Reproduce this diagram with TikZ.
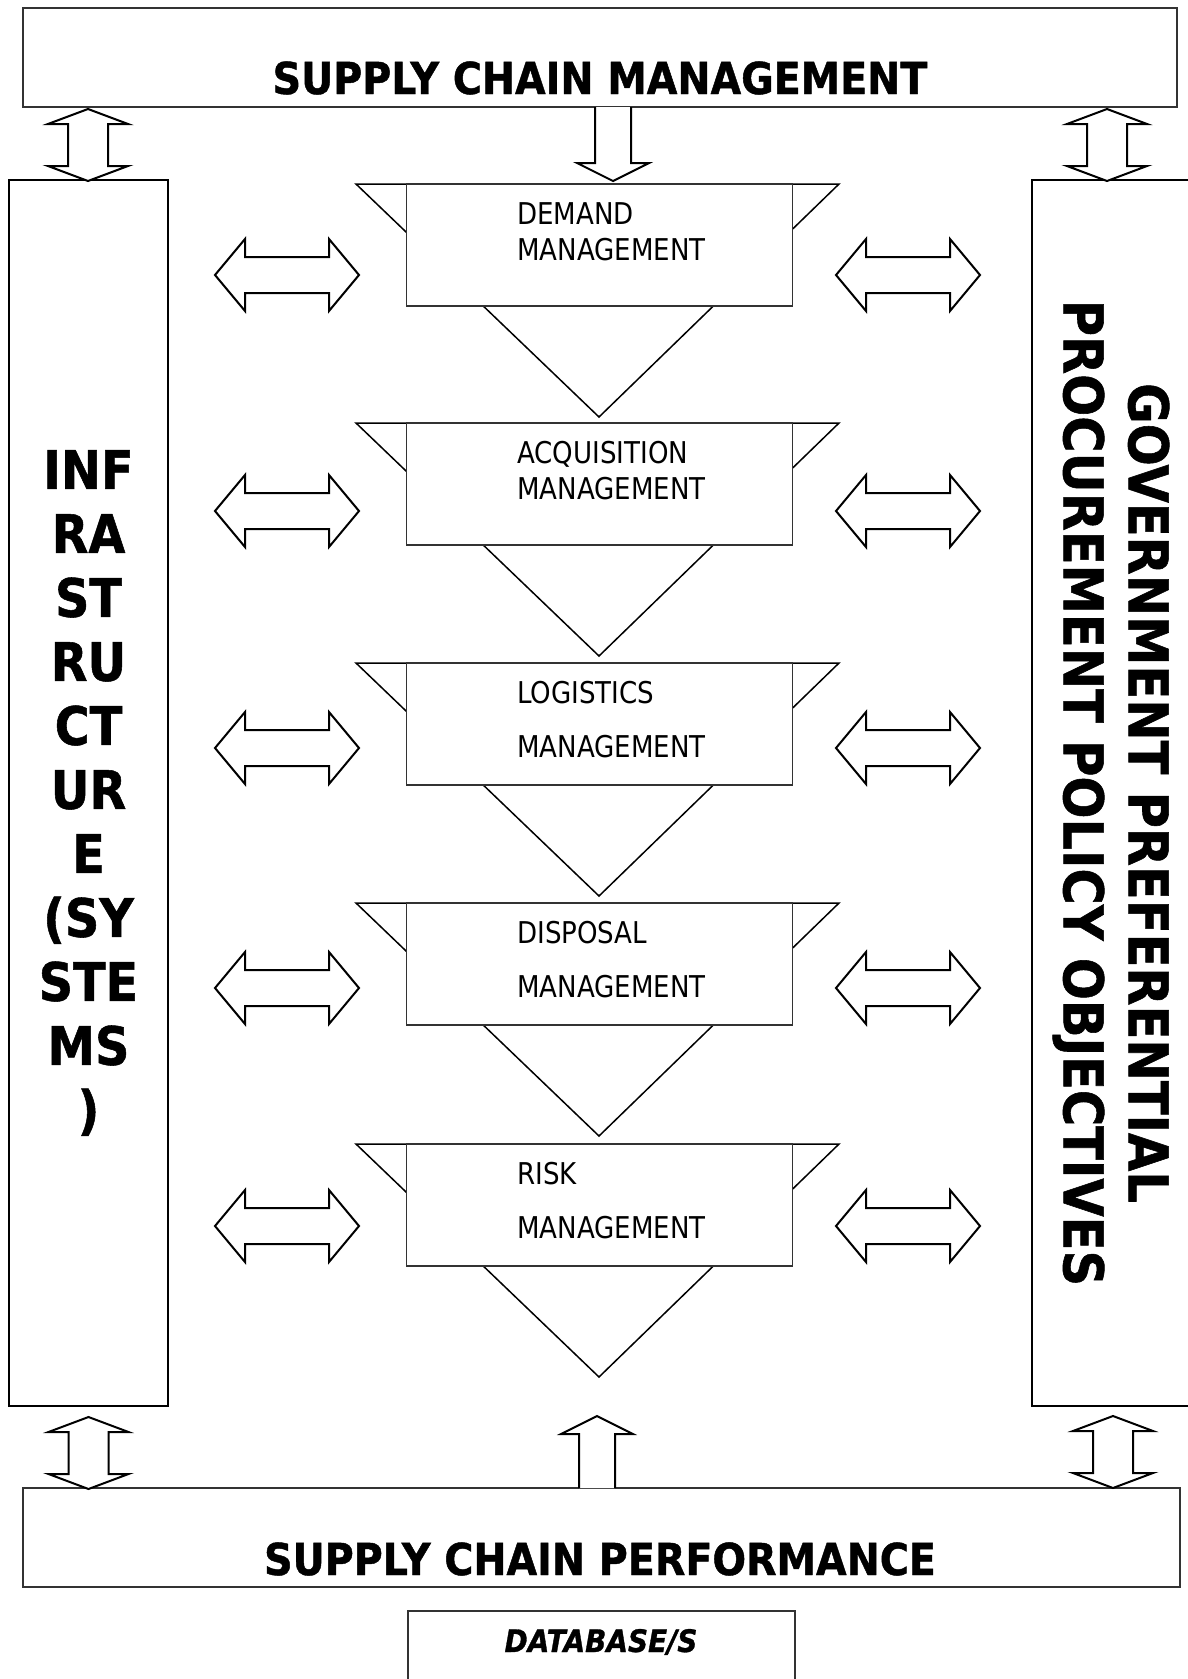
\documentclass[tikz,border=0pt]{standalone}
\usepackage{fontspec}
\setmainfont{DejaVu Sans}
\newfontfamily\boxfont{DejaVu Sans}[FakeStretch=0.87]
\newfontfamily\headfont{DejaVu Sans}[FakeStretch=0.9,FakeBold=1,BoldFont={DejaVu Sans Bold},BoldItalicFont={DejaVu Sans Bold Oblique}]

\tikzset{
  frame/.style={draw=black!80, line width=1.5pt, inner sep=0pt},
  sidebox/.style={draw, line width=2pt, inner sep=0pt},
  blockarrow/.style={draw, line width=2pt, fill=white, line join=miter},
  funnel/.style={draw, line width=1.5pt, fill=white},
  stagebox/.style={draw=black!80, line width=1.5pt, fill=white, minimum width=386pt, minimum height=122pt, inner sep=0pt},
  stagetext/.style={font=\boxfont\fontsize{30}{36}\selectfont, anchor=base west, inner sep=0pt},
  headtext/.style={font=\headfont\bfseries\fontsize{44}{53}\selectfont, anchor=base, inner sep=0pt},
  hdouble/.pic={\draw[blockarrow] (-72,0) -- (-42,-36) -- (-42,-18) -- (42,-18) -- (42,-36)
    -- (72,0) -- (42,36) -- (42,18) -- (-42,18) -- (-42,36) -- cycle;},
  vdouble/.pic={\draw[blockarrow] (0,-36) -- (40,-21) -- (20,-21) -- (20,21) -- (40,21)
    -- (0,36) -- (-40,21) -- (-20,21) -- (-20,-21) -- (-40,-21) -- cycle;}
}

\begin{document}
\begin{tikzpicture}[x=1pt, y=-1pt]
\useasboundingbox (0,0) rectangle (1187,1679);

% draw top and bottom boxes
\node[frame, minimum width=1154pt, minimum height=99pt] (scm) at (600,57.5) {};
\node[headtext] (scmtext) at (600,94) {SUPPLY CHAIN MANAGEMENT};
\node[frame, minimum width=1157pt, minimum height=99pt] (scp) at (601.5,1537.5) {};
\node[headtext] (scptext) at (600,1575) {SUPPLY CHAIN PERFORMANCE};

% draw side boxes
\node[sidebox, minimum width=159pt, minimum height=1226pt, align=center,
  font=\headfont\bfseries\fontsize{53}{64}\selectfont] (infra) at (88.5,793)
  {INF\\RA\\ST\\RU\\CT\\UR\\E\\(SY\\STE\\MS\\)};
\node[sidebox, rotate=-90, minimum width=1226pt, minimum height=158pt, align=center,
  font=\headfont\bfseries\fontsize{55}{65}\selectfont] (gov) at (1111,793)
  {GOVERNMENT PREFERENTIAL\\PROCUREMENT POLICY OBJECTIVES};

% draw stages with funnels and side arrows
\foreach \t/\one/\two/\gap/\ry [count=\i] in {
  184/DEMAND/MANAGEMENT/36/275,
  423/ACQUISITION/MANAGEMENT/36/511,
  663/LOGISTICS/MANAGEMENT/54/748,
  903/DISPOSAL/MANAGEMENT/54/988,
  1144/RISK/MANAGEMENT/54/1226}
{
  \draw[funnel] (356,\t) -- (839,\t) -- (599,\t+233) -- cycle;
  \node[stagebox] (st\i) at (599.5,\t+61) {};
  \node[stagetext] (st\i a) at (517,\t+40) {\one};
  \node[stagetext] (st\i b) at (517,\t+40+\gap) {\two};
  \pic at (287,\ry) {hdouble};
  \pic at (908,\ry) {hdouble};
}

% draw vertical arrows
\pic at (88,145) {vdouble};
\pic at (1107,145) {vdouble};
\pic at (88.5,1453) {vdouble};
\pic at (1113,1452) {vdouble};
\draw[blockarrow] (595,107) -- (595,163) -- (577,163) -- (613,181) -- (649,163) -- (631,163) -- (631,107);
\draw[blockarrow] (579,1488) -- (579,1434) -- (561,1434) -- (597,1416) -- (633,1434) -- (615,1434) -- (615,1488);

% draw database box
\draw[draw=black!80, line width=1.5pt] (408,1690) -- (408,1611) -- (795,1611) -- (795,1690);
\node[anchor=base, inner sep=0pt, font=\headfont\bfseries\itshape\fontsize{31}{37}\selectfont] (db) at (601,1652) {DATABASE/S};
\end{tikzpicture}
\end{document}
